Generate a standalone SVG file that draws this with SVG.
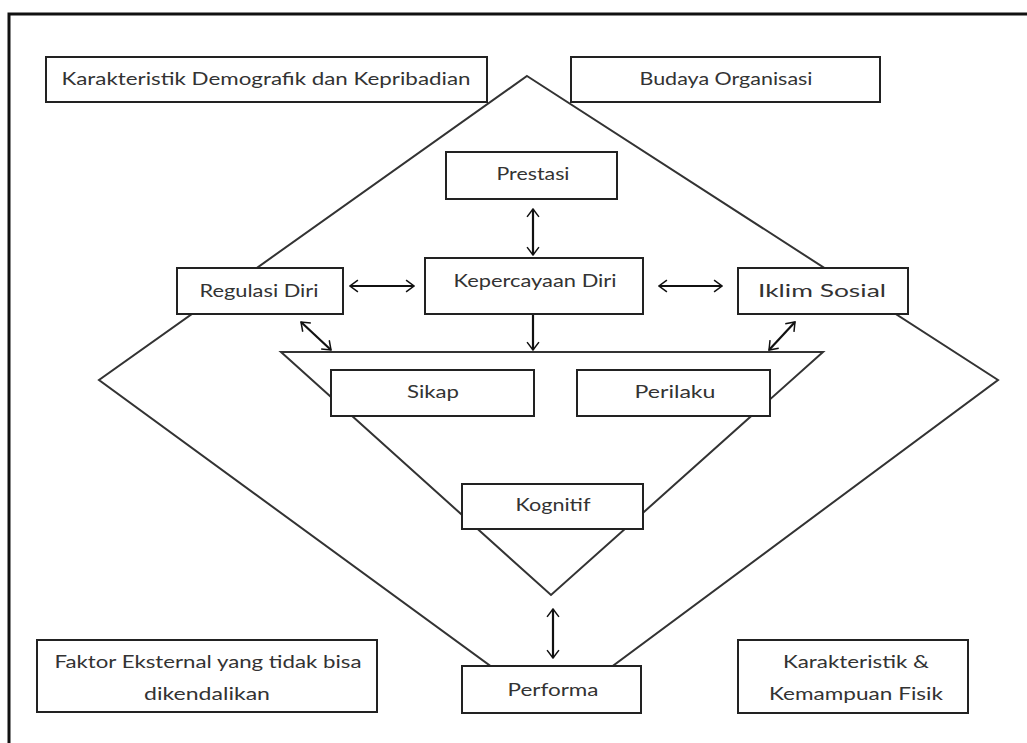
<svg xmlns="http://www.w3.org/2000/svg" width="1027" height="743" viewBox="0 0 1027 743">
<style>
.bg{fill:#fff}
.frame{stroke:#111;stroke-width:3;fill:none}
.shape{fill:none;stroke:#333;stroke-width:2;stroke-linejoin:miter}
.box{fill:#fff;stroke:#222;stroke-width:2}
.t{font-family:Lato,"Open Sans","Liberation Sans",sans-serif;font-size:18px;fill:#333;text-anchor:middle}
.conn{stroke:#111;stroke-width:2.2;fill:none}
</style>
<defs>
<marker id="ah" viewBox="0 0 10 14" refX="9" refY="7" markerWidth="4.5" markerHeight="6.3" orient="auto-start-reverse" markerUnits="strokeWidth">
<path d="M1,1 L9,7 L1,13" fill="none" stroke="#111" stroke-width="1.5"/>
</marker>
</defs>
<rect class="bg" x="0" y="0" width="1027" height="743"/>
<path class="frame" d="M9,743 L9,14 L1027,14"/>
<g id="shapes">
<polygon class="shape" points="527,76 998,380 552,711 99,380"/>
<polygon class="shape" points="281,352 823,352 551,595"/>
</g>
<g id="connectors">
<line class="conn" x1="533" y1="209" x2="533" y2="255" marker-start="url(#ah)" marker-end="url(#ah)"/>
<line class="conn" x1="350" y1="286" x2="414" y2="286" marker-start="url(#ah)" marker-end="url(#ah)"/>
<line class="conn" x1="659" y1="286" x2="722" y2="286" marker-start="url(#ah)" marker-end="url(#ah)"/>
<line class="conn" x1="533" y1="315" x2="533" y2="350" marker-end="url(#ah)"/>
<line class="conn" x1="301" y1="322" x2="331" y2="350" marker-start="url(#ah)" marker-end="url(#ah)"/>
<line class="conn" x1="795" y1="322" x2="769" y2="350" marker-start="url(#ah)" marker-end="url(#ah)"/>
<line class="conn" x1="553" y1="609" x2="553" y2="658" marker-start="url(#ah)" marker-end="url(#ah)"/>
</g>
<g id="n-demografik"><rect class="box" x="46" y="57" width="441" height="45"/><text class="t" x="266" y="85" textLength="409" lengthAdjust="spacingAndGlyphs">Karakteristik Demografik dan Kepribadian</text></g>
<g id="n-budaya"><rect class="box" x="571" y="57" width="309" height="45"/><text class="t" x="726" y="85" textLength="173" lengthAdjust="spacingAndGlyphs">Budaya Organisasi</text></g>
<g id="n-prestasi"><rect class="box" x="446" y="152" width="171" height="47"/><text class="t" x="533" y="180" textLength="73" lengthAdjust="spacingAndGlyphs">Prestasi</text></g>
<g id="n-kepercayaan"><rect class="box" x="425" y="258" width="218" height="56"/><text class="t" x="535" y="287" textLength="163" lengthAdjust="spacingAndGlyphs">Kepercayaan Diri</text></g>
<g id="n-regulasi"><rect class="box" x="177" y="268" width="166" height="46"/><text class="t" x="259" y="297" textLength="119" lengthAdjust="spacingAndGlyphs">Regulasi Diri</text></g>
<g id="n-iklim"><rect class="box" x="738" y="268" width="170" height="46"/><text class="t" x="822" y="297" textLength="128" lengthAdjust="spacingAndGlyphs">Iklim Sosial</text></g>
<g id="n-sikap"><rect class="box" x="331" y="370" width="203" height="46"/><text class="t" x="433" y="398" textLength="52" lengthAdjust="spacingAndGlyphs">Sikap</text></g>
<g id="n-perilaku"><rect class="box" x="577" y="370" width="193" height="46"/><text class="t" x="675" y="398" textLength="81" lengthAdjust="spacingAndGlyphs">Perilaku</text></g>
<g id="n-kognitif"><rect class="box" x="462" y="484" width="181" height="45"/><text class="t" x="553" y="511" textLength="75" lengthAdjust="spacingAndGlyphs">Kognitif</text></g>
<g id="n-performa"><rect class="box" x="462" y="666" width="179" height="47"/><text class="t" x="553" y="696" textLength="91" lengthAdjust="spacingAndGlyphs">Performa</text></g>
<g id="n-faktor"><rect class="box" x="37" y="640" width="340" height="72"/><text class="t" x="208" y="668" textLength="307" lengthAdjust="spacingAndGlyphs">Faktor Eksternal yang tidak bisa</text><text class="t" x="207" y="700" textLength="126" lengthAdjust="spacingAndGlyphs">dikendalikan</text></g>
<g id="n-fisik"><rect class="box" x="738" y="640" width="230" height="73"/><text class="t" x="856" y="668" textLength="146" lengthAdjust="spacingAndGlyphs">Karakteristik &amp;</text><text class="t" x="856" y="700" textLength="174" lengthAdjust="spacingAndGlyphs">Kemampuan Fisik</text></g>
</svg>
